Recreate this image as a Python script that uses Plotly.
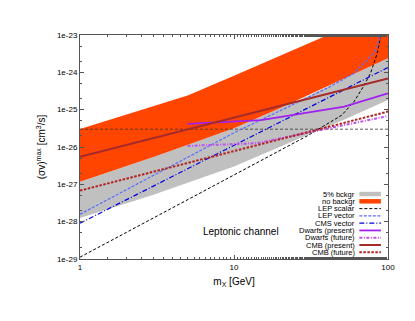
import plotly.graph_objects as go

# DM mass grid for the bands [GeV]
band_m = [1, 3, 5, 10, 20, 30, 50, 100]
bkg5_lo = [1.26e-28, 5.25e-28, 1.10e-27, 3.02e-27, 1.02e-26, 2.09e-26, 5.01e-26, 1.82e-25]
bkg5_hi = [1.17e-27, 5.37e-27, 1.17e-26, 3.16e-26, 1.10e-25, 2.29e-25, 6.31e-25, 2.40e-24]
nobkg_hi = [3.02e-26, 1.26e-25, 2.40e-25, 8.13e-25, 2.75e-24, 5.75e-24, 1.45e-23, 5.0e-23]

lep_scalar_m = [1, 10, 30, 50, 60, 70, 77, 85, 90, 92]
lep_scalar = [1.12e-29, 1.78e-27, 2.0e-26, 7.1e-26, 1.62e-25, 4.47e-25, 9.5e-25, 3.16e-24, 1.0e-23, 3.16e-23]

lep_vector_m = [1, 10, 40, 60, 81, 90, 95]
lep_vector = [1.58e-28, 2.40e-26, 3.72e-25, 9.33e-25, 3.24e-24, 1.0e-23, 3.16e-23]

cms_vector_m = [1, 100]
cms_vector = [9.1e-29, 1.35e-24]

dw_present_m = [5, 15, 52, 100]
dw_present = [4.17e-26, 5.25e-26, 1.20e-25, 2.75e-25]
dw_future_m = [5, 14, 100]
dw_future = [1.07e-26, 1.26e-26, 6.76e-26]

cmb_m = [1, 100]
cmb_present = [5.5e-27, 6.9e-25]
cmb_future = [6.8e-28, 8.9e-26]

thermal = 3e-26

ytick_vals = [1e-29, 1e-28, 1e-27, 1e-26, 1e-25, 1e-24, 1e-23]
ytick_text = ["1e-29", "1e-28", "1e-27", "1e-26", "1e-25", "1e-24", "1e-23"]
xtick_vals = [1, 10, 100]
xtick_text = ["1", "10", "100"]

FONT = "Liberation Sans, Arial, sans-serif"
GRAY = "#c0c0c0"
ORANGE = "#ff4500"

fig = go.Figure()

# 5% background band
fig.add_trace(go.Scatter(x=band_m + band_m[::-1], y=bkg5_hi + bkg5_lo[::-1],
                         fill="toself", fillcolor=GRAY, line=dict(width=0),
                         mode="lines", hoverinfo="skip"))
# no background band
fig.add_trace(go.Scatter(x=band_m + band_m[::-1], y=nobkg_hi + bkg5_hi[::-1],
                         fill="toself", fillcolor=ORANGE, line=dict(width=0),
                         mode="lines", hoverinfo="skip"))

# thermal relic line
fig.add_trace(go.Scatter(x=[1, 100], y=[thermal, thermal], mode="lines",
                         line=dict(color="#333333", width=0.8, dash="3px,2px")))

curves = [
    ("LEP scalar", lep_scalar_m, lep_scalar, "#000000", 1, "3px,2px"),
    ("LEP vector", lep_vector_m, lep_vector, "#5a6cff", 1.2, "3px,1.5px"),
    ("CMS vector", cms_vector_m, cms_vector, "#0000e0", 1.2, "5px,2px,1px,2px"),
    ("Dwarfs (present)", dw_present_m, dw_present, "#a020f0", 1.8, "solid"),
    ("Dwarfs (future)", dw_future_m, dw_future, "#c050f0", 2, "3px,1.5px,1px,1.5px"),
    ("CMB (present)", cmb_m, cmb_present, "#a52a2a", 2, "solid"),
    ("CMB (future)", cmb_m, cmb_future, "#b22222", 2, "2.5px,1.5px"),
]
for name, xs, ys, col, w, dash in curves:
    fig.add_trace(go.Scatter(x=xs, y=ys, mode="lines", name=name,
                             line=dict(color=col, width=w, dash=dash)))

# hand-made legend, gnuplot style (text right, sample after)
legend_rows = [("5% bckgr", GRAY, 4.5, "solid"), ("no backgr", ORANGE, 4.5, "solid")]
legend_rows += [(c[0], c[3], c[4], c[5]) for c in curves]
y0, dy = 0.290, 0.0325
for i, (name, col, w, dash) in enumerate(legend_rows):
    yy = y0 - i * dy
    fig.add_annotation(x=0.897, y=yy, xref="paper", yref="paper", text=name,
                       showarrow=False, xanchor="right", yanchor="middle", borderpad=0,
                       font=dict(family=FONT, size=7.5, color="#000000"))
    fig.add_shape(type="line", xref="paper", yref="paper", x0=0.907, x1=0.977,
                  y0=yy, y1=yy, line=dict(color=col, width=w, dash=dash))

fig.add_annotation(x=0.392, y=0.125, xref="paper", yref="paper", text="Leptonic channel",
                   showarrow=False, xanchor="left", yanchor="middle",
                   font=dict(family=FONT, size=10, color="#000000"))

axis_common = dict(type="log", showgrid=False, zeroline=False, showline=True,
                   linecolor="#555555", linewidth=1, mirror="ticks", ticks="inside",
                   ticklen=4, tickcolor="#555555",
                   minor=dict(ticks="inside", ticklen=2, tickcolor="#555555"),
                   tickfont=dict(family=FONT, size=8, color="#000000"))

fig.update_xaxes(range=[0, 2], tickvals=xtick_vals, ticktext=xtick_text,
                 title=dict(text="m<sub>X</sub> [GeV]", standoff=7,
                            font=dict(family=FONT, size=10, color="#000000")),
                 **axis_common)
fig.update_yaxes(range=[-29, -23], tickvals=ytick_vals, ticktext=ytick_text,
                 title=dict(text="(σv)<sup>max</sup> [cm<sup>3</sup>/s]", standoff=9,
                            font=dict(family=FONT, size=10, color="#000000")),
                 **axis_common)

# page body has an 8px margin, so the figure is shrunk to fit the window
fig.update_layout(width=399, height=305, margin=dict(l=72, r=16, t=27, b=54),
                  plot_bgcolor="white", paper_bgcolor="white", showlegend=False)

fig.write_html("out.html")
